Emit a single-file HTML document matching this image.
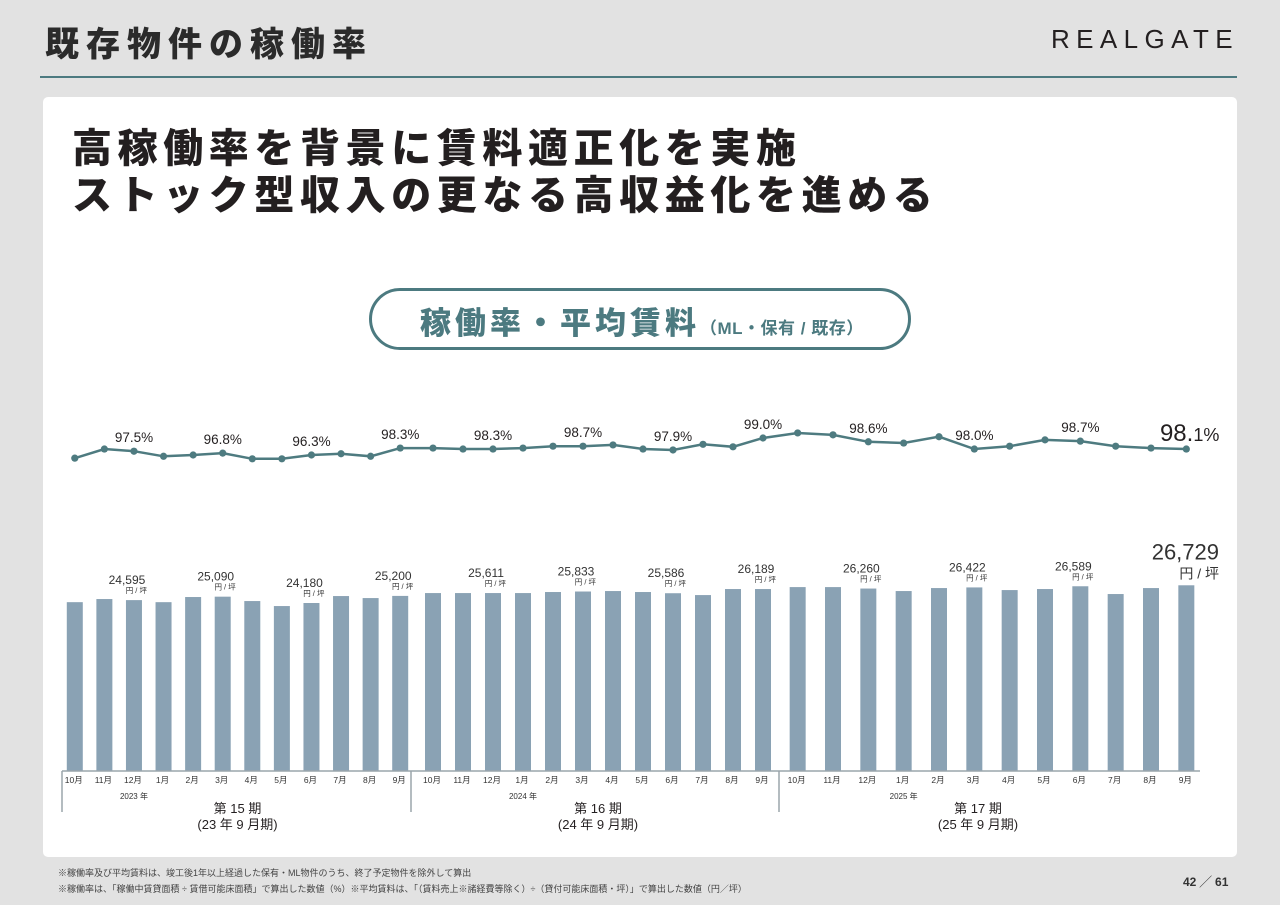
<!DOCTYPE html>
<html><head><meta charset="utf-8">
<style>
body{margin:0;width:1280px;height:905px;background:#e2e2e2;position:relative;overflow:hidden;font-family:"Liberation Sans","Noto Sans CJK JP",sans-serif;color:#231f20}
.abs{position:absolute}
</style></head><body>
<div class="abs" style="left:45px;top:17px;font-size:34px;font-weight:900;letter-spacing:7px;color:#2b2b2b">既存物件の稼働率</div>
<div class="abs" style="left:1051px;top:24px;font-size:26px;letter-spacing:6.4px;color:#231f20">REALGATE</div>
<div class="abs" style="left:40px;top:76px;width:1197px;height:2px;background:#4c7a80"></div>
<div class="abs" style="left:43px;top:97px;width:1194px;height:760px;background:#fff;border-radius:5px"></div>
<div class="abs" style="left:72px;top:126px;font-size:40px;font-weight:900;letter-spacing:5.6px;line-height:47px;color:#231f20">高稼働率を背景に賃料適正化を実施<br>ストック型収入の更なる高収益化を進める</div>
<div class="abs" style="left:369px;top:288px;width:536px;height:56px;border:3px solid #4c7a80;border-radius:32px;box-sizing:content-box"></div>
<div class="abs" style="left:420px;top:298px;font-size:31px;font-weight:900;color:#4c7a80;letter-spacing:4px;white-space:nowrap">稼働率・平均賃料<span style="font-size:17px;font-weight:bold;letter-spacing:0.5px">（ML・保有 / 既存）</span></div>

<svg class="abs" style="left:0;top:0" width="1280" height="905">
<g id="g"></g>
</svg>

<div class="abs" style="left:58px;top:866px;font-size:9px;color:#444">※稼働率及び平均賃料は、竣工後1年以上経過した保有・ML物件のうち、終了予定物件を除外して算出</div>
<div class="abs" style="left:58px;top:882px;font-size:9px;color:#444">※稼働率は、「稼働中賃貸面積 ÷ 賃借可能床面積」で算出した数値（%）※平均賃料は、「（賃料売上※諸経費等除く）÷（貸付可能床面積・坪）」で算出した数値（円／坪）</div>
<div class="abs" style="left:1183px;top:873px;font-size:12px;font-weight:bold;color:#333">42 ╱ 61</div>

<script>
const months=["10月","11月","12月","1月","2月","3月","4月","5月","6月","7月","8月","9月","10月","11月","12月","1月","2月","3月","4月","5月","6月","7月","8月","9月","10月","11月","12月","1月","2月","3月","4月","5月","6月","7月","8月","9月"];
const occupancy=[95.8,97.25,96.9,96.1,96.3,96.6,95.7,95.7,96.3,96.5,96.1,97.4,97.4,97.25,97.25,97.4,97.7,97.7,97.9,97.25,97.1,98.0,97.6,99.0,99.8,99.5,98.4,98.2,99.2,97.25,97.7,98.7,98.5,97.7,97.4,97.25];
const occLabels=[null,null,"97.5%",null,null,"96.8%",null,null,"96.3%",null,null,"98.3%",null,null,"98.3%",null,null,"98.7%",null,null,"97.9%",null,null,"99.0%",null,null,"98.6%",null,null,"98.0%",null,null,"98.7%",null,null,"98.1%"];
const rent=[24300,24750,24595,24300,25040,25090,24460,23740,24180,25180,24890,25200,25610,25610,25611,25610,25760,25833,25900,25760,25586,25320,26190,26189,26470,26470,26260,25900,26330,26422,26040,26190,26589,25470,26330,26729];
const rentLabels=[null,null,"24,595",null,null,"25,090",null,null,"24,180",null,null,"25,200",null,null,"25,611",null,null,"25,833",null,null,"25,586",null,null,"26,189",null,null,"26,260",null,null,"26,422",null,null,"26,589",null,null,"26,729"];
const years=["2023 年","2024 年","2025 年"];
const periods=["第 15 期","第 16 期","第 17 期"];
const periodSubs=["(23 年 9 月期)","(24 年 9 月期)","(25 年 9 月期)"];

const NS="http://www.w3.org/2000/svg";
const g=document.getElementById('g');
function mk(tag,attrs,txt){const e=document.createElementNS(NS,tag);for(const k in attrs)e.setAttribute(k,attrs[k]);if(txt!=null)e.textContent=txt;g.appendChild(e);return e;}
const segs=[[60,415],[418,778],[780,1204]];
function xAt(i){const s=Math.floor(i/12),j=i%12,[a,b]=segs[s];const w=(b-a)/12;return a+w*(j+0.5);}
const baseY=771;
function yRent(v){return baseY-v*0.006948;}
function yOcc(v){return 438-(v-99)*6.3;}
const font='"Liberation Sans","Noto Sans CJK JP",sans-serif';

rent.forEach((v,i)=>{const x=xAt(i);
 const b=mk('rect',{x:x-8,y:yRent(v),width:16,height:baseY-yRent(v),fill:'#8aa2b4'});
 
 
 const lab=rentLabels[i];
 if(lab){
  if(i===rent.length-1){
   const t=mk('text',{x:1219,y:yRent(v)-26,'text-anchor':'end','font-size':22,'font-family':font,fill:'#333'},lab);
   
   
   const u=mk('text',{x:1219,y:yRent(v)-7,'text-anchor':'end','font-size':14,'font-family':font,fill:'#333'},'円 / 坪');
   
   
  } else {
   const t=mk('text',{x:x-7,y:yRent(v)-16,'text-anchor':'middle','font-size':12,'font-family':font,fill:'#333'},lab);
   
   
   const u=mk('text',{x:x+13,y:yRent(v)-7,'text-anchor':'end','font-size':7.5,'font-family':font,fill:'#333'},'円 / 坪');
   
   
  }
 }
});
const pts=occupancy.map((v,i)=>xAt(i).toFixed(1)+','+yOcc(v).toFixed(1)).join(' ');
const pl=mk('polyline',{points:pts,fill:'none',stroke:'#4e7b80','stroke-width':2.5});


occupancy.forEach((v,i)=>{const x=xAt(i),y=yOcc(v);
 const c=mk('circle',{cx:x,cy:y,r:3.6,fill:'#4e7b80'});
 
 
 const lab=occLabels[i];
 if(lab){
  if(i===occupancy.length-1){
   const t=mk('text',{x:x+33,y:y-8,'text-anchor':'end','font-size':18,'font-family':font,fill:'#231f20'});
   t.innerHTML='<tspan font-size="24">'+lab.slice(0,3)+'</tspan>'+lab.slice(3);
   
   
  } else {
   const t=mk('text',{x:x,y:y-9,'text-anchor':'middle','font-size':13.5,'font-family':font,fill:'#231f20'},lab);
   
   
  }
 }
});
const ax=mk('line',{x1:62,y1:baseY,x2:1200,y2:baseY,stroke:'#9aa5ab','stroke-width':1.5});


[62,411,779].forEach(x=>{const l=mk('line',{x1:x,y1:baseY,x2:x,y2:812,stroke:'#9aa5ab','stroke-width':1.5});
 
 });
months.forEach((m,i)=>{const t=mk('text',{x:xAt(i)-1,y:783,'text-anchor':'middle','font-size':8.5,'font-family':font,fill:'#333'},m);
 
 });
const yearX=[2,15,27];
years.forEach((y,k)=>{const t=mk('text',{x:xAt(yearX[k]),y:799,'text-anchor':'middle','font-size':8,'font-family':font,fill:'#333'},y);
 
 });
periods.forEach((p,k)=>{const cx=(segs[k][0]+segs[k][1])/2+(k===2?-14:0);
 const t=mk('text',{x:cx,y:813,'text-anchor':'middle','font-size':13,'font-family':font,fill:'#231f20'},p);
 
 
 const s=mk('text',{x:cx,y:829,'text-anchor':'middle','font-size':13,'font-family':font,fill:'#231f20'},periodSubs[k]);
 
 });
</script>
</body></html>
